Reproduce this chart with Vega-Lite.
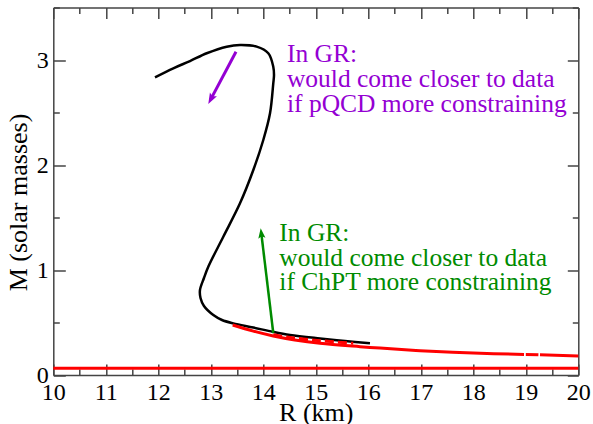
{
  "$schema": "https://vega.github.io/schema/vega-lite/v6.json",
  "width": 525,
  "height": 367.5,
  "autosize": "none",
  "padding": {"left": 53.3, "top": 7.5, "right": 14.7, "bottom": 49},
  "background": "white",
  "config": {"view": {"stroke": null}, "font": "Liberation Serif, Times New Roman, serif"},
  "datasets": {
    "curves": [
      {"c": "black", "s": 0, "i": 1, "R": 11.937, "M": 2.835},
      {"c": "black", "s": 0, "i": 2, "R": 12.286, "M": 2.921},
      {"c": "black", "s": 0, "i": 3, "R": 12.604, "M": 2.99},
      {"c": "black", "s": 0, "i": 4, "R": 12.922, "M": 3.064},
      {"c": "black", "s": 0, "i": 5, "R": 13.303, "M": 3.127},
      {"c": "black", "s": 0, "i": 6, "R": 13.556, "M": 3.143},
      {"c": "black", "s": 0, "i": 7, "R": 13.874, "M": 3.127},
      {"c": "black", "s": 0, "i": 8, "R": 14.095, "M": 3.064},
      {"c": "black", "s": 0, "i": 9, "R": 14.19, "M": 2.936},
      {"c": "black", "s": 0, "i": 10, "R": 14.204, "M": 2.857},
      {"c": "black", "s": 0, "i": 11, "R": 14.19, "M": 2.778},
      {"c": "black", "s": 0, "i": 12, "R": 14.128, "M": 2.492},
      {"c": "black", "s": 0, "i": 13, "R": 14.0, "M": 2.238},
      {"c": "black", "s": 0, "i": 14, "R": 13.81, "M": 1.952},
      {"c": "black", "s": 0, "i": 15, "R": 13.556, "M": 1.635},
      {"c": "black", "s": 0, "i": 16, "R": 13.238, "M": 1.317},
      {"c": "black", "s": 0, "i": 17, "R": 12.952, "M": 1.031},
      {"c": "black", "s": 0, "i": 18, "R": 12.87, "M": 0.924},
      {"c": "black", "s": 0, "i": 19, "R": 12.794, "M": 0.81},
      {"c": "black", "s": 0, "i": 20, "R": 12.804, "M": 0.733},
      {"c": "black", "s": 0, "i": 21, "R": 12.87, "M": 0.657},
      {"c": "black", "s": 0, "i": 22, "R": 13.048, "M": 0.571},
      {"c": "black", "s": 0, "i": 23, "R": 13.213, "M": 0.524},
      {"c": "black", "s": 0, "i": 24, "R": 13.429, "M": 0.492},
      {"c": "black", "s": 0, "i": 25, "R": 13.81, "M": 0.452},
      {"c": "black", "s": 0, "i": 26, "R": 14.19, "M": 0.41},
      {"c": "black", "s": 0, "i": 27, "R": 14.509, "M": 0.381},
      {"c": "black", "s": 0, "i": 28, "R": 15.08, "M": 0.348},
      {"c": "black", "s": 0, "i": 29, "R": 15.556, "M": 0.324},
      {"c": "black", "s": 0, "i": 30, "R": 16.032, "M": 0.302},
      {"c": "red", "s": 1, "i": 1, "R": 13.417, "M": 0.476},
      {"c": "red", "s": 1, "i": 2, "R": 13.81, "M": 0.418},
      {"c": "red", "s": 1, "i": 3, "R": 14.19, "M": 0.372},
      {"c": "red", "s": 1, "i": 4, "R": 14.6, "M": 0.334},
      {"c": "red", "s": 1, "i": 5, "R": 15.08, "M": 0.302},
      {"c": "red", "s": 1, "i": 6, "R": 15.842, "M": 0.27},
      {"c": "red", "s": 1, "i": 7, "R": 16.223, "M": 0.256},
      {"c": "red", "s": 1, "i": 8, "R": 16.985, "M": 0.232},
      {"c": "red", "s": 1, "i": 9, "R": 18.0, "M": 0.209},
      {"c": "red", "s": 1, "i": 10, "R": 18.966, "M": 0.196},
      {"c": "red", "s": 2, "i": 1, "R": 19.0, "M": 0.195},
      {"c": "red", "s": 2, "i": 2, "R": 19.24, "M": 0.192},
      {"c": "red", "s": 3, "i": 1, "R": 19.27, "M": 0.192},
      {"c": "red", "s": 3, "i": 2, "R": 20.0, "M": 0.182},
      {"c": "reddash", "s": 4, "i": 1, "R": 14.19, "M": 0.383},
      {"c": "reddash", "s": 4, "i": 2, "R": 14.446, "M": 0.361},
      {"c": "reddash", "s": 4, "i": 3, "R": 15.08, "M": 0.327},
      {"c": "reddash", "s": 4, "i": 4, "R": 15.714, "M": 0.302},
      {"c": "redflat", "s": 5, "i": 1, "R": 10.0, "M": 0.064},
      {"c": "redflat", "s": 5, "i": 2, "R": 20.0, "M": 0.064}
    ],
    "arrows": [
      {"a": "pQCD", "i": 1, "R": 13.48, "M": 3.079},
      {"a": "pQCD", "i": 2, "R": 12.996, "M": 2.623},
      {"a": "ChPT", "i": 1, "R": 14.19, "M": 0.4},
      {"a": "ChPT", "i": 2, "R": 13.962, "M": 1.35}
    ],
    "heads": [
      {"a": "pQCD", "R": 12.952, "M": 2.581},
      {"a": "ChPT", "R": 13.95, "M": 1.397}
    ],
    "notes": [
      {"g": "pQCD", "R": 14.45, "M": 2.978, "t": "In GR:"},
      {"g": "pQCD", "R": 14.45, "M": 2.74, "t": "would come closer to data"},
      {"g": "pQCD", "R": 14.45, "M": 2.508, "t": "if pQCD more constraining"},
      {"g": "ChPT", "R": 14.305, "M": 1.279, "t": "In GR:"},
      {"g": "ChPT", "R": 14.305, "M": 1.038, "t": "would come closer to data"},
      {"g": "ChPT", "R": 14.305, "M": 0.81, "t": "if ChPT more constraining"}
    ]
  },
  "resolve": {"axis": {"x": "independent", "y": "independent"}},
  "encoding": {
    "x": {"field": "R", "type": "quantitative", "scale": {"domain": [10, 20], "nice": false, "zero": false}, "axis": null},
    "y": {"field": "M", "type": "quantitative", "scale": {"domain": [0, 3.5], "nice": false, "zero": false}, "axis": null}
  },
  "layer": [
    {
      "data": {"name": "curves"},
      "transform": [{"filter": "datum.c === 'black'"}],
      "mark": {"type": "line", "color": "#000000", "strokeWidth": 2.5, "interpolate": "catmull-rom"},
      "encoding": {
        "x": {"field": "R", "type": "quantitative", "scale": {"domain": [10, 20], "nice": false, "zero": false},
          "axis": {
            "orient": "bottom",
            "values": [10, 10.5, 11, 11.5, 12, 12.5, 13, 13.5, 14, 14.5, 15, 15.5, 16, 16.5, 17, 17.5, 18, 18.5, 19, 19.5, 20],
            "labelExpr": "datum.value % 1 === 0 ? format(datum.value, 'd') : ''",
            "tickSize": {"condition": {"test": "datum.value % 1 === 0", "value": -11}, "value": -6},
            "tickColor": "#444444", "tickWidth": 1.5,
            "domainColor": "#444444", "domainWidth": 1.5,
            "labelFont": "Liberation Serif, Times New Roman, serif", "labelFontSize": 24, "labelColor": "#000000",
            "labelPadding": 16, "labelFlush": false, "labelOverlap": false, "labelBound": false,
            "title": "R (km)", "titleFont": "Liberation Serif, Times New Roman, serif", "titleFontSize": 26, "titleFontWeight": "normal",
            "titleColor": "#000000", "titleY": 45, "titleBaseline": "alphabetic",
            "grid": false
          }},
        "y": {"field": "M", "type": "quantitative", "scale": {"domain": [0, 3.5], "nice": false, "zero": false},
          "axis": {
            "orient": "left",
            "values": [0, 0.5, 1, 1.5, 2, 2.5, 3, 3.5],
            "labelExpr": "datum.value % 1 === 0 ? format(datum.value, 'd') : ''",
            "tickSize": {"condition": {"test": "datum.value % 1 === 0", "value": -12}, "value": -6},
            "tickColor": "#444444", "tickWidth": 1.5,
            "domainColor": "#444444", "domainWidth": 1.5,
            "labelFont": "Liberation Serif, Times New Roman, serif", "labelFontSize": 24, "labelColor": "#000000",
            "labelPadding": 17, "labelFlush": false, "labelOverlap": false, "labelBound": false,
            "title": "M (solar masses)", "titleFont": "Liberation Serif, Times New Roman, serif", "titleFontSize": 26, "titleFontWeight": "normal",
            "titleColor": "#000000", "titleAngle": 270, "titleX": -27.3, "titleY": 194.5,
            "titleBaseline": "alphabetic", "titleAlign": "center",
            "grid": false
          }},
        "order": {"field": "i", "type": "quantitative"}
      }
    },
    {
      "data": {"name": "curves"},
      "transform": [{"filter": "datum.c === 'redflat'"}],
      "mark": {"type": "line", "color": "#ff0000", "strokeWidth": 3},
      "encoding": {
        "x": {"field": "R", "type": "quantitative", "scale": {"domain": [10, 20], "nice": false, "zero": false},
          "axis": {
            "orient": "top",
            "values": [10, 10.5, 11, 11.5, 12, 12.5, 13, 13.5, 14, 14.5, 15, 15.5, 16, 16.5, 17, 17.5, 18, 18.5, 19, 19.5, 20],
            "labels": false, "title": null,
            "tickSize": {"condition": {"test": "datum.value % 1 === 0", "value": -11}, "value": -6},
            "tickColor": "#444444", "tickWidth": 1.5,
            "domainColor": "#444444", "domainWidth": 1.5, "grid": false
          }},
        "y": {"field": "M", "type": "quantitative", "scale": {"domain": [0, 3.5], "nice": false, "zero": false},
          "axis": {
            "orient": "right",
            "values": [0, 0.5, 1, 1.5, 2, 2.5, 3, 3.5],
            "labels": false, "title": null,
            "tickSize": {"condition": {"test": "datum.value % 1 === 0", "value": -11}, "value": -6},
            "tickColor": "#444444", "tickWidth": 1.5,
            "domainColor": "#444444", "domainWidth": 1.5, "grid": false
          }},
        "order": {"field": "i", "type": "quantitative"}
      }
    },
    {
      "data": {"name": "curves"},
      "transform": [{"filter": "datum.c === 'red'"}],
      "mark": {"type": "line", "color": "#ff0000", "strokeWidth": 3, "interpolate": "catmull-rom"},
      "encoding": {
        "detail": {"field": "s", "type": "nominal"},
        "order": {"field": "i", "type": "quantitative"}
      }
    },
    {
      "data": {"name": "curves"},
      "transform": [{"filter": "datum.c === 'reddash'"}],
      "mark": {"type": "line", "color": "#ff0000", "strokeWidth": 3, "strokeDash": [9, 4], "interpolate": "catmull-rom"},
      "encoding": {
        "order": {"field": "i", "type": "quantitative"}
      }
    },
    {
      "data": {"name": "arrows"},
      "transform": [{"filter": "datum.a === 'pQCD'"}],
      "mark": {"type": "line", "color": "#9400d3", "strokeWidth": 3},
      "encoding": {"order": {"field": "i", "type": "quantitative"}}
    },
    {
      "data": {"name": "arrows"},
      "transform": [{"filter": "datum.a === 'ChPT'"}],
      "mark": {"type": "line", "color": "#008b00", "strokeWidth": 2.5},
      "encoding": {"order": {"field": "i", "type": "quantitative"}}
    },
    {
      "data": {"name": "heads"},
      "transform": [{"filter": "datum.a === 'pQCD'"}],
      "mark": {"type": "point", "shape": "M0,0L-0.36,1L0,0.8L0.36,1Z", "filled": true, "size": 484, "angle": 207.9, "color": "#9400d3", "opacity": 1, "strokeWidth": 0}
    },
    {
      "data": {"name": "heads"},
      "transform": [{"filter": "datum.a === 'ChPT'"}],
      "mark": {"type": "point", "shape": "M0,0L-0.36,1L0,0.8L0.36,1Z", "filled": true, "size": 400, "angle": 353.1, "color": "#008b00", "opacity": 1, "strokeWidth": 0}
    },
    {
      "data": {"name": "notes"},
      "transform": [{"filter": "datum.g === 'pQCD'"}],
      "mark": {"type": "text", "align": "left", "baseline": "alphabetic", "font": "Liberation Serif, Times New Roman, serif", "fontSize": 25.5, "color": "#9400d3"},
      "encoding": {"text": {"field": "t", "type": "nominal"}}
    },
    {
      "data": {"name": "notes"},
      "transform": [{"filter": "datum.g === 'ChPT'"}],
      "mark": {"type": "text", "align": "left", "baseline": "alphabetic", "font": "Liberation Serif, Times New Roman, serif", "fontSize": 25.5, "color": "#008b00"},
      "encoding": {"text": {"field": "t", "type": "nominal"}}
    }
  ]
}
